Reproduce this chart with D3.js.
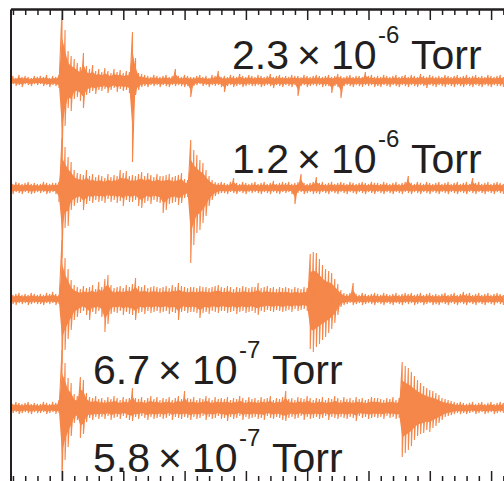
<!DOCTYPE html>
<html lang="en">
<head>
  <meta charset="UTF-8">
  <script src="https://d3js.org/d3.v7.min.js"></script>
  <title>pressure traces</title>
  <style>
    body { margin: 0; background: #fff; }
    svg { display: block; }
  </style>
</head>
<body>
  <svg style="width:504px;height:481px"></svg>
  <script>
    // sampling of the traces (time, arbitrary units, majors = 1)
    const tStart = 0.15;
    const tStep = 0.05;

    const majorTicks = [1, 2, 3, 4, 5, 6, 7, 8];

    // vertical offset of each trace
    const traceOffsets = [0, -107, -218, -327];

    // upper / lower envelope of each trace per sample
    const t1Hi = [4,5,3,6,4,5,4,3,5,4, 5,4,6,3,5,4,6,72,51,30, 25,22,18,14,28,15,12,16,10,12,
      9,13,10,8,12,9,11,8,10,9, 49,23,8,7,6,5,4,6,5,4, 5,6,4,5,12,5,4,6,5,4,
      4,5,6,4,5,3,6,5,10,4, 5,4,6,5,4,7,5,4,6,5, 4,6,5,4,5,7,4,5,6,4,
      5,4,6,5,5,4,6,5,4,5, 6,5,4,5,6,4,5,7,5,4, 5,6,4,5,5,4,9,5,6,4,
      5,4,6,5,4,5,6,4,5,6, 4,6,5,4,7,5,4,6,5,4, 5,4,6,5,4,5,6,4,5,6,
      4,5,6,4,5,4,6,5,4,5, 6,4];
    const t1Lo = [-4,-3,-5,-4,-6,-3,-4,-5,-3,-4, -3,-5,-4,-6,-4,-5,-7,-80,-45,-27, -30,-18,-16,-20,-27,-14,-12,-10,-13,-9,
      -10,-8,-12,-9,-7,-11,-8,-10,-9,-12, -81,-14,-9,-6,-5,-6,-4,-5,-4,-6, -4,-5,-6,-4,-5,-4,-5,-6,-5,-16,
      -5,-4,-3,-5,-4,-6,-4,-5,-4,-6, -11,-5,-4,-6,-5,-4,-6,-5,-4,-5, -5,-4,-6,-5,-4,-5,-7,-4,-5,-6,
      -4,-5,-6,-4,-15,-5,-4,-6,-5,-4, -5,-4,-6,-5,-5,-12,-5,-6,-17,-5, -4,-5,-6,-4,-5,-6,-4,-5,-4,-6,
      -5,-6,-4,-5,-6,-4,-5,-6,-4,-5, -6,-4,-5,-6,-4,-5,-7,-4,-5,-6, -4,-5,-6,-4,-5,-6,-4,-5,-6,-4,
      -5,-6,-4,-5,-6,-4,-5,-6,-4,-5, -5,-6];

    const t2Hi = [5,4,6,5,4,5,6,4,5,4, 4,6,5,4,5,5,6,50,41,31, 26,18,15,14,13,18,12,14,11,13,
      12,10,14,11,13,12,18,15,17,12, 13,12,14,16,12,15,13,11,14,12, 12,13,14,11,12,13,15,9,8,48,
      38,33,28,25,18,12,8,6,5,6, 5,4,6,10,5,4,6,5,4,5, 6,4,5,6,4,5,7,4,5,6,
      5,6,4,5,6,14,5,4,5,6, 11,5,6,4,5,6,4,5,6,5, 4,6,5,4,5,6,5,4,6,5,
      5,4,6,5,4,5,6,4,5,6, 12,5,4,6,5,4,6,5,4,5, 6,4,5,6,4,5,6,4,5,6,
      4,10,5,6,4,5,6,4,5,6, 5,4];
    const t2Lo = [-5,-6,-4,-5,-6,-4,-5,-6,-5,-4, -5,-4,-6,-5,-4,-6,-14,-70,-40,-38, -22,-18,-15,-14,-22,-16,-13,-15,-12,-14,
      -13,-15,-11,-14,-12,-15,-13,-18,-12,-14, -14,-12,-18,-20,-15,-13,-16,-12,-14,-15, -25,-22,-16,-15,-14,-17,-15,-10,-9,-75,
      -57,-45,-42,-35,-28,-18,-12,-8,-6,-5, -5,-6,-4,-5,-6,-4,-5,-6,-4,-5, -4,-5,-6,-4,-5,-6,-4,-5,-6,-4,
      -5,-4,-6,-16,-5,-4,-6,-5,-4,-6, -5,-6,-4,-5,-6,-4,-5,-6,-4,-5, -6,-4,-5,-6,-4,-5,-6,-4,-5,-6,
      -4,-5,-6,-4,-5,-6,-4,-5,-6,-4, -5,-6,-4,-5,-6,-4,-5,-6,-4,-5, -6,-4,-5,-6,-4,-5,-6,-4,-5,-6,
      -4,-5,-6,-4,-5,-6,-4,-5,-6,-4, -5,-6];

    const t3Hi = [5,4,5,6,4,5,4,6,5,4, 5,4,6,5,7,5,4,59,41,30, 19,14,12,10,13,11,12,14,10,17,
      12,20,24,14,11,12,13,11,14,12, 15,21,13,12,14,11,12,13,12,11, 12,13,11,14,12,16,13,12,11,12,
      12,11,13,12,12,11,12,13,14,12, 11,13,12,10,12,11,13,12,11,12, 12,16,11,12,13,11,12,10,12,11,
      12,11,10,12,11,10,12,11,45,47, 46,40,34,30,28,26,20,15,9,6, 5,6,16,5,4,6,5,4,5,6,
      5,4,6,5,4,5,6,4,5,6, 5,6,4,5,6,4,5,6,4,5, 4,5,6,4,5,6,4,5,7,5,
      6,4,5,6,4,5,6,4,5,6, 5,4];
    const t3Lo = [-4,-5,-6,-4,-5,-4,-6,-5,-4,-5, -5,-6,-4,-5,-4,-6,-5,-65,-51,-40, -31,-21,-18,-14,-12,-16,-21,-13,-15,-12,
      -18,-33,-25,-15,-13,-14,-12,-16,-13,-15, -16,-21,-14,-13,-15,-12,-14,-13,-12,-14, -13,-12,-15,-13,-14,-21,-13,-12,-14,-13,
      -13,-14,-19,-14,-13,-15,-12,-13,-14,-12, -12,-14,-13,-12,-15,-13,-12,-14,-13,-12, -14,-16,-12,-13,-11,-12,-13,-11,-12,-13,
      -12,-11,-13,-10,-12,-11,-10,-12,-50,-53, -48,-45,-41,-38,-34,-30,-24,-16,-8,-6, -5,-4,-6,-5,-4,-6,-5,-4,-5,-6,
      -4,-5,-6,-4,-5,-6,-4,-5,-6,-4, -5,-4,-6,-5,-4,-6,-5,-4,-6,-5, -6,-4,-5,-6,-4,-5,-6,-4,-5,-6,
      -4,-5,-6,-4,-5,-6,-4,-5,-6,-4, -5,-6];

    const t4Hi = [5,4,6,5,4,5,6,4,5,4, 4,6,5,4,6,5,8,58,45,30, 25,14,12,31,28,15,11,10,12,9,
      10,8,11,9,12,10,8,11,9,10, 20,10,9,11,8,10,12,9,11,8, 10,9,11,8,10,12,9,17,10,9,
      11,8,10,9,12,10,8,11,9,10, 9,11,8,10,9,12,10,8,11,9, 10,8,11,9,10,12,8,10,9,11,
      17,9,10,8,11,10,9,12,10,8, 10,9,11,8,10,9,12,10,8,11, 9,10,8,11,9,10,8,9,11,10,
      10,9,8,10,9,11,8,10,46,42, 40,36,32,28,25,22,20,18,17,15, 13,10,9,8,7,6,5,6,5,4,
      5,6,4,5,6,4,5,6,4,5, 6,5];
    const t4Lo = [-4,-5,-4,-6,-5,-4,-5,-6,-4,-5, -5,-4,-6,-5,-4,-6,-5,-75,-52,-39, -28,-15,-12,-30,-26,-14,-10,-12,-9,-11,
      -9,-11,-8,-12,-10,-9,-11,-8,-10,-12, -13,-9,-11,-8,-10,-12,-9,-11,-10,-9, -11,-10,-8,-12,-9,-10,-11,-9,-10,-12,
      -9,-11,-10,-8,-12,-9,-11,-10,-8,-11, -10,-13,-9,-11,-10,-8,-12,-9,-11,-10, -9,-11,-10,-12,-8,-10,-11,-9,-10,-12,
      -13,-10,-9,-11,-10,-8,-12,-9,-11,-10, -9,-11,-10,-8,-12,-9,-10,-11,-9,-10, -11,-9,-10,-13,-8,-10,-9,-11,-10,-9,
      -10,-9,-11,-8,-10,-9,-11,-10,-49,-45, -42,-38,-32,-28,-26,-25,-22,-24,-20,-18, -15,-12,-9,-8,-7,-6,-5,-6,-5,-6,
      -5,-4,-6,-5,-4,-6,-5,-4,-6,-5, -4,-5];

    const traceHi = [t1Hi, t2Hi, t3Hi, t4Hi];
    const traceLo = [t1Lo, t2Lo, t3Lo, t4Lo];

    // pressure labels
    const labelMantissa = ["2.3", "1.2", "6.7", "5.8"];
    const labelExponent = ["-6", "-6", "-7", "-7"];
    const labelUnit = "Torr";
    // label anchor (pixels), kept apart from the data
    const labelPos = [[232, 69], [232, 172.7], [93, 384], [93, 471.7]];

    const ink = "#231f20";
    const orange = "#f5874a";

    const svg = d3.select("svg");

    const xScale = d3.scaleLinear().domain([0.16, 8.5]).range([10.5, 521.75]);
    const yScale = d3.scaleLinear().domain([72, -401]).range([9, 482]);

    svg.append("defs").append("clipPath").attr("id", "plotClip")
      .append("rect")
      .attr("x", xScale(0.16)).attr("y", yScale(72))
      .attr("width", xScale(8.5) - xScale(0.16))
      .attr("height", yScale(-401) - yScale(72));

    const plot = svg.append("g").attr("clip-path", "url(#plotClip)");

    // solid core of each trace, inside the min/max envelope
    const coreArea = d3.area()
      .x(d => xScale(d.t))
      .y0(d => yScale(d.off + 0.6 * d.lo))
      .y1(d => yScale(d.off + 0.6 * d.hi));

    // min/max per sample joined as one zigzag line
    const traceLine = d3.line().x(d => xScale(d.t)).y(d => yScale(d.v));

    traceHi.forEach((hi, i) => {
      const rows = hi.map((h, k) => ({ t: tStart + tStep * k, off: traceOffsets[i], hi: h, lo: traceLo[i][k] }));
      plot.append("path")
        .attr("d", coreArea(rows))
        .attr("fill", orange);

      const pts = [];
      rows.forEach(d => {
        pts.push({ t: d.t, v: d.off + d.hi });
        pts.push({ t: d.t, v: d.off + d.lo });
      });
      plot.append("path")
        .attr("d", traceLine(pts))
        .attr("fill", "none")
        .attr("stroke", orange)
        .attr("stroke-width", 1.1);
    });

    // frame and ticks
    const minorTicks = d3.range(0.2, 8.5, 0.2).filter(v => Math.abs(v - Math.round(v)) > 0.01);

    const addAxis = (axisFn, ty) => {
      const g = svg.append("g").attr("transform", `translate(0,${ty})`);
      g.append("g").call(axisFn(xScale).tickValues(majorTicks).tickSize(-11).tickSizeOuter(0).tickFormat(""));
      g.append("g").call(axisFn(xScale).tickValues(minorTicks).tickSize(-6).tickSizeOuter(0).tickFormat(""));
      g.selectAll("path.domain").attr("stroke", ink).attr("stroke-width", 2);
      g.selectAll(".tick line").attr("stroke", ink).attr("stroke-width", 1.5);
    };
    addAxis(d3.axisTop, yScale(72));
    addAxis(d3.axisBottom, yScale(-401));

    const leftG = svg.append("g").attr("transform", `translate(${xScale(0.16)},0)`)
      .call(d3.axisLeft(yScale).tickValues([]).tickSizeOuter(0));
    leftG.select("path.domain").attr("stroke", ink).attr("stroke-width", 2);

    // labels
    labelMantissa.forEach((m, i) => {
      const [lx, ly] = labelPos[i];
      const txt = svg.append("text")
        .attr("x", lx).attr("y", ly)
        .attr("font-family", "'Liberation Sans', Arial, Helvetica, sans-serif")
        .attr("font-size", 41)
        .attr("fill", ink);
      txt.append("tspan").text(m);
      txt.append("tspan").attr("x", lx + 65).text("\u00d7");
      txt.append("tspan").attr("x", lx + 99).text("10");
      txt.append("tspan").attr("x", lx + 146).attr("dy", -26).attr("font-size", 24).text(labelExponent[i]);
      txt.append("tspan").attr("x", lx + 179).attr("dy", 26).text(labelUnit);
    });
  </script>
</body>
</html>
